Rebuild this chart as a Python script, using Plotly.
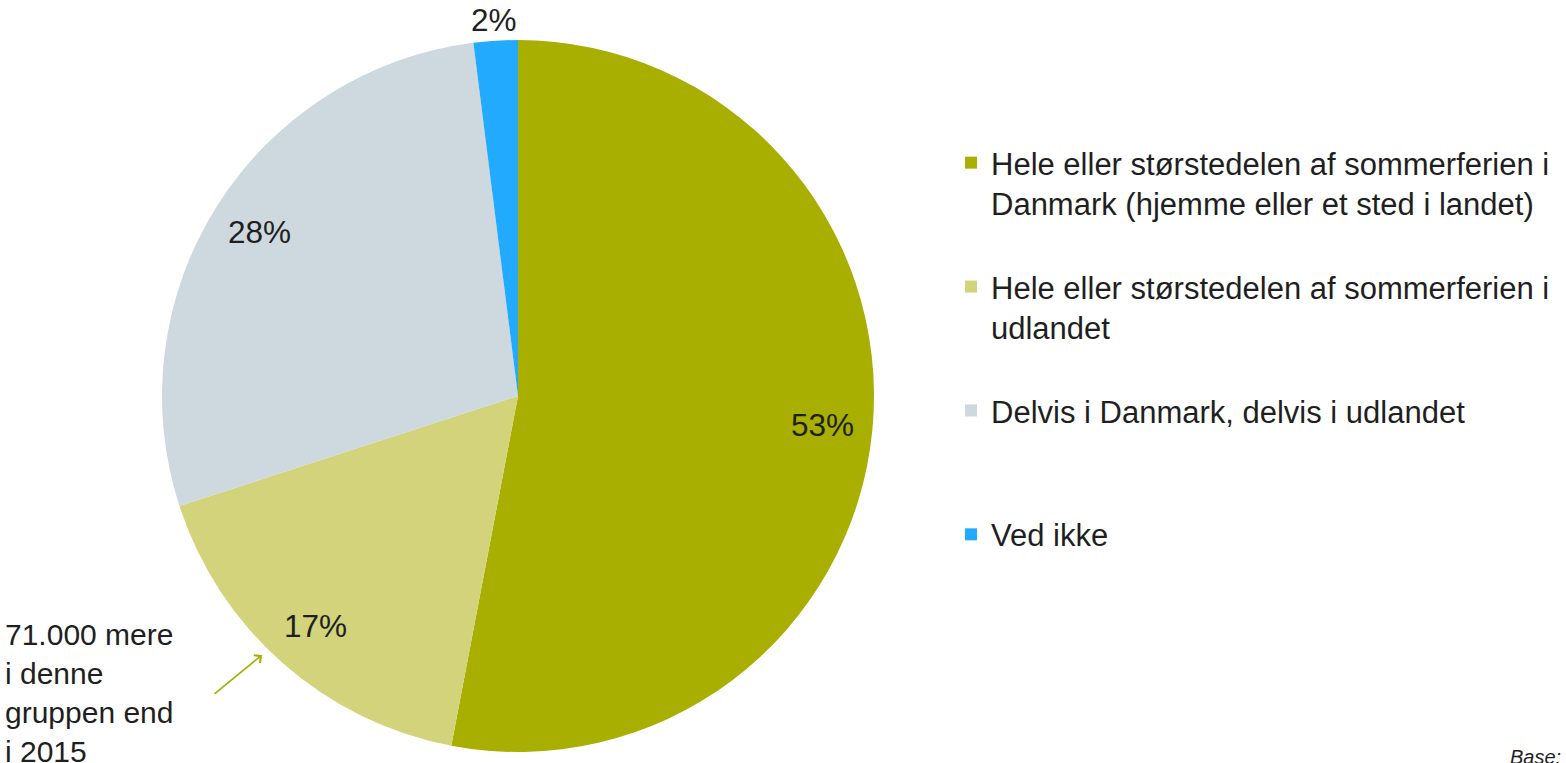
import math
import plotly.graph_objects as go

labels = [
    "Hele eller størstedelen af sommerferien i<br>Danmark (hjemme eller et sted i landet)",
    "Hele eller størstedelen af sommerferien i<br>udlandet",
    "Delvis i Danmark, delvis i udlandet",
    "Ved ikke",
]
values = [53, 17, 28, 2]
pct_labels = ["53%", "17%", "28%", "2%"]
colors = ["#A8AF00", "#D2D37A", "#CDD8DF", "#22AAFF"]
label_inside = [True, True, True, False]

# legend spacing: pad each entry to three lines
n_lines = [2, 2, 1, 1]
legend_labels = [lab + "<br> " * (3 - n) for lab, n in zip(labels, n_lines)]

W, H = 1566, 763
cx, cy, r = 518, 396, 356

fig = go.Figure(go.Pie(
    labels=legend_labels,
    values=values,
    sort=False,
    direction="clockwise",
    rotation=0,
    marker=dict(colors=colors, line=dict(width=0)),
    textinfo="none",
    domain=dict(x=[(cx - r) / W, (cx + r) / W], y=[(H - cy - r) / H, (H - cy + r) / H]),
    hoverinfo="percent",
))

# percentage labels placed along each slice's bisector
annotations = []
total = sum(values)
cum = 0
for v, txt, inside in zip(values, pct_labels, label_inside):
    mid = 2 * math.pi * (cum + v / 2) / total
    cum += v
    rr = 0.86 * r if inside else r + 21
    px = cx + rr * math.sin(mid)
    py = cy - rr * math.cos(mid)
    annotations.append(dict(
        text=txt, x=px / W, y=1 - py / H, xref="paper", yref="paper",
        xanchor="center", yanchor="middle", showarrow=False,
        font=dict(size=31.5, color="#1f1f1f"),
    ))

annotations += [
    dict(
        text="71.000 mere<br>i denne<br>gruppen end<br>i 2015",
        x=3 / W, y=1 - 616 / H, xref="paper", yref="paper",
        xanchor="left", yanchor="top", align="left", showarrow=False,
        font=dict(size=30, color="#1f1f1f"),
    ),
    dict(
        text="", x=262 / W, y=1 - 655 / H, xref="paper", yref="paper",
        showarrow=True, ax=-49, ay=40, arrowhead=4, arrowsize=1.2,
        arrowwidth=1.6, arrowcolor="#A8AF00", standoff=0,
    ),
    dict(
        text="<i>Base:</i>", x=1508 / W, y=1 - 744 / H, xref="paper", yref="paper",
        xanchor="left", yanchor="top", showarrow=False,
        font=dict(size=20, color="#1f1f1f"),
    ),
]

fig.update_layout(
    width=W, height=H,
    margin=dict(l=0, r=0, t=0, b=0),
    paper_bgcolor="white",
    plot_bgcolor="white",
    font=dict(family="Liberation Sans, Arial, sans-serif", color="#1f1f1f"),
    showlegend=True,
    legend=dict(
        x=951 / W, xanchor="left",
        y=1 - 136 / H, yanchor="top",
        font=dict(size=31, color="#1f1f1f"),
        valign="top",
        itemwidth=30,
        bgcolor="rgba(0,0,0,0)",
        tracegroupgap=0,
    ),
    annotations=annotations,
)

fig.write_html("out.html")
